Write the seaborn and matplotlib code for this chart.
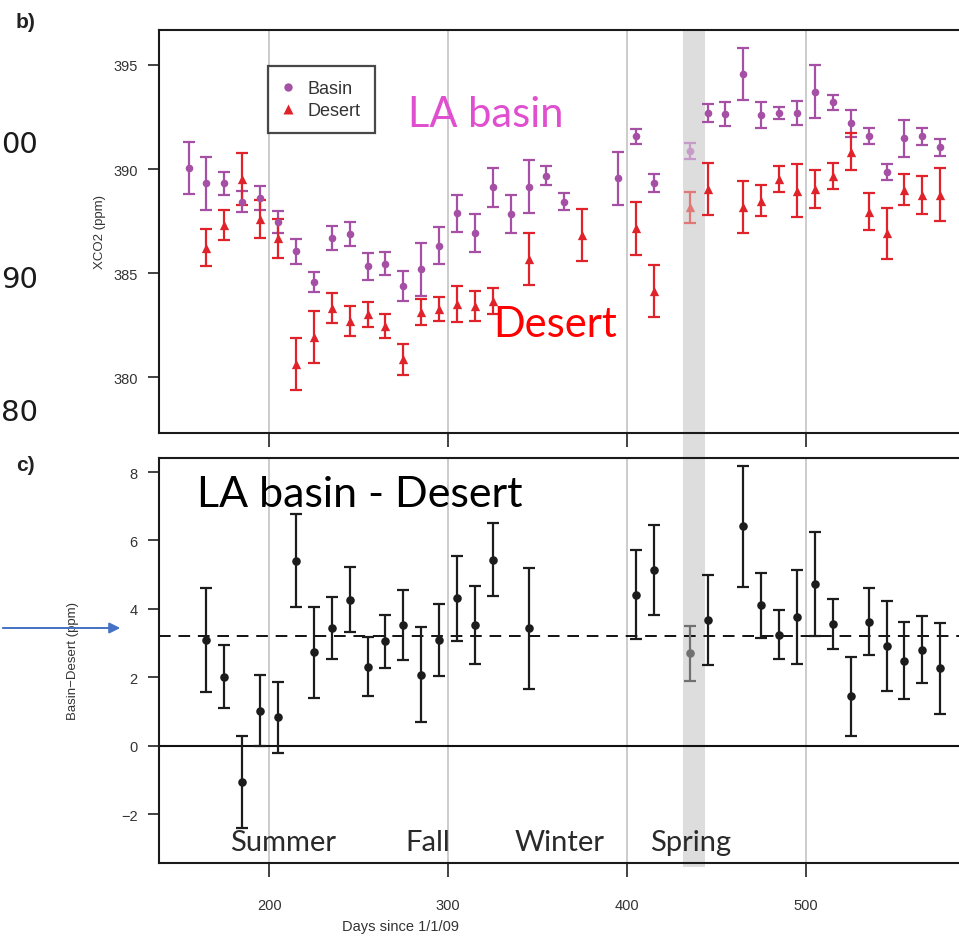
import matplotlib
matplotlib.use("Agg")
import matplotlib.pyplot as plt
from matplotlib.patches import Rectangle, FancyArrowPatch
from matplotlib.lines import Line2D
import numpy as np
import pandas as pd
import seaborn as sns

# ---------------- data ----------------
basin_days = [155, 165, 175, 185, 195, 205, 215, 225, 235, 245, 255, 265, 275, 285, 295,
              305, 315, 325, 335, 345, 355, 365, 395, 405, 415,
              435, 445, 455, 465, 475, 485, 495, 505, 515, 525, 535, 545, 555, 565, 575]
basin_vals = [390.03, 389.31, 389.31, 388.43, 388.6, 387.47, 386.04, 384.58, 386.67, 386.89,
              385.32, 385.46, 384.39, 385.19, 386.31, 387.87, 386.92, 389.12, 387.84, 389.15,
              389.68, 388.43, 389.55, 391.57, 389.33, 390.88, 392.68, 392.64, 394.57, 392.6,
              392.69, 392.68, 393.72, 393.2, 392.2, 391.6, 389.84, 391.47, 391.57, 391.04]
basin_err = [1.25, 1.28, 0.56, 0.5, 0.58, 0.52, 0.58, 0.48, 0.58, 0.58,
             0.64, 0.54, 0.72, 1.27, 0.89, 0.9, 0.9, 0.92, 0.9, 1.27,
             0.46, 0.42, 1.28, 0.36, 0.44, 0.38, 0.43, 0.56, 1.25, 0.62,
             0.3, 0.58, 1.26, 0.38, 0.64, 0.38, 0.38, 0.9, 0.4, 0.4]

desert_days = [165, 175, 185, 195, 205, 215, 225, 235, 245, 255, 265, 275, 285, 295, 305, 315, 325,
               345, 375, 405, 415, 435, 445, 465, 475, 485, 495, 505, 515, 525, 535, 545, 555, 565, 575]
desert_vals = [386.23, 387.31, 389.52, 387.6, 386.67, 380.63, 381.91, 383.32, 382.71, 383.03,
               382.47, 380.87, 383.14, 383.27, 383.51, 383.4, 383.67, 385.67, 386.83, 387.16,
               384.15, 388.16, 389.04, 388.16, 388.48, 389.52, 388.96, 389.04, 389.68, 390.83,
               387.95, 386.92, 389.01, 388.77, 388.77]
desert_err = [0.89, 0.72, 1.27, 0.9, 0.92, 1.26, 1.25, 0.72, 0.72, 0.6,
              0.58, 0.74, 0.64, 0.58, 0.88, 0.72, 0.63, 1.24, 1.26, 1.28,
              1.24, 0.74, 1.25, 1.25, 0.75, 0.62, 1.26, 0.9, 0.62, 0.88,
              0.9, 1.23, 0.74, 0.91, 1.26]

diff_days = [165, 175, 185, 195, 205, 215, 225, 235, 245, 255, 265, 275, 285, 295, 305, 315, 325,
             345, 405, 415, 435, 445, 465, 475, 485, 495, 505, 515, 525, 535, 545, 555, 565, 575]
diff_vals = [3.09, 2.02, -1.07, 1.02, 0.83, 5.41, 2.73, 3.44, 4.27, 2.31,
             3.05, 3.53, 2.08, 3.09, 4.31, 3.53, 5.44, 3.43, 4.41, 5.14,
             2.70, 3.68, 6.41, 4.10, 3.24, 3.76, 4.73, 3.56, 1.44, 3.63,
             2.91, 2.49, 2.81, 2.26]
diff_err = [1.52, 0.92, 1.34, 1.04, 1.04, 1.37, 1.33, 0.92, 0.94, 0.87,
            0.77, 1.02, 1.4, 1.05, 1.24, 1.15, 1.07, 1.76, 1.3, 1.32,
            0.8, 1.32, 1.76, 0.96, 0.72, 1.37, 1.52, 0.74, 1.15, 0.98,
            1.31, 1.14, 0.97, 1.32]

mean_diff = 3.22
band_days = (431.5, 443.5)
season_lines = [200, 300, 400, 500]
seasons = ["Summer", "Fall", "Winter", "Spring"]
x_ticks = [200, 300, 400, 500]
top_yticks = [380, 385, 390, 395]
bot_yticks = [-2, 0, 2, 4, 6, 8]
side_labels = ["00", "90", "80"]

# ---------------- style ----------------
sns.set_theme(style="white")
plt.rcParams["font.family"] = ["Liberation Sans", "DejaVu Sans"]

W, H = 959, 937
fig = plt.figure(figsize=(W / 100, H / 100), dpi=100)
fig.patch.set_facecolor("white")


def fx(px):
    return px / W


def fy(py):
    return 1 - py / H


ax1 = fig.add_axes([fx(159), fy(434), fx(959) - fx(159), fy(31) - fy(434)])
ax2 = fig.add_axes([fx(159), fy(864), fx(959) - fx(159), fy(459) - fy(864)])

# shaded band spanning both panels
fig.patches.append(Rectangle((fx(683), fy(868)), fx(705) - fx(683), fy(31) - fy(868),
                             transform=fig.transFigure, facecolor="#dddddd",
                             edgecolor="none", zorder=-1))

XL = (138.5, 585.5)

BASIN_C = "#a54fa5"
DESERT_C = "#e0222a"
BASIN_FADE = "#c79ac7"
DESERT_FADE = "#e07878"
DIFF_C = "#1c1c1c"
DIFF_FADE = "#707070"


def in_band(d):
    return band_days[0] <= d <= band_days[1]


for ax in (ax1, ax2):
    ax.set_facecolor("none")
    ax.set_xlim(*XL)
    for v in season_lines:
        ax.axvline(v, color="#c8c8c8", lw=1.3, zorder=1)
    for s in ("left", "top", "bottom"):
        ax.spines[s].set_visible(True)
        ax.spines[s].set_color("#1a1a1a")
        ax.spines[s].set_linewidth(1.5)
    ax.spines["right"].set_visible(False)
    ax.set_xticks(x_ticks)
    ax.tick_params(axis="y", direction="out", length=8, width=1.2, color="#222222",
                   labelsize=10.5, labelcolor="#333333", pad=7.5, left=True)
    ax.tick_params(axis="x", direction="out", length=10, width=1.2, color="#222222",
                   labelsize=10.5, labelcolor="#333333", pad=15, bottom=True)

# ---- top panel ----
df_b = pd.DataFrame({"day": basin_days, "xco2": basin_vals, "err": basin_err})
df_d = pd.DataFrame({"day": desert_days, "xco2": desert_vals, "err": desert_err})
df_b["band"] = df_b["day"].apply(in_band)
df_d["band"] = df_d["day"].apply(in_band)

for df, col, fade, mk, size in ((df_b, BASIN_C, BASIN_FADE, "o", 30),
                                 (df_d, DESERT_C, DESERT_FADE, "^", 45)):
    for flag, c in ((False, col), (True, fade)):
        sub = df[df["band"] == flag]
        ax1.errorbar(sub["day"], sub["xco2"], yerr=sub["err"], fmt="none",
                     ecolor=c, elinewidth=1.6, capsize=4.5, capthick=1.6, zorder=3)
        sns.scatterplot(data=sub, x="day", y="xco2", ax=ax1, color=c, marker=mk,
                        s=size, linewidth=0, zorder=4, legend=False)

ax1.set_ylim(377.32, 396.68)
ax1.set_yticks(top_yticks)
ax1.tick_params(axis="x", labelbottom=False)
ax1.set_xlabel("")
ax1.set_ylabel("XCO2 (ppm)", fontsize=9.5, color="#333333")
ax1.yaxis.set_label_coords((106 - 159) / 800, 0.5)

handles = [Line2D([0], [0], marker="o", color="none", markerfacecolor=BASIN_C,
                  markeredgecolor="none", markersize=6, label="Basin"),
           Line2D([0], [0], marker="^", color="none", markerfacecolor=DESERT_C,
                  markeredgecolor="none", markersize=7, label="Desert")]
leg = ax1.legend(handles=handles, loc="upper left",
                 bbox_to_anchor=((268 - 159) / 800, (434 - 67) / 403),
                 frameon=True, fancybox=False, fontsize=13, labelspacing=0.25,
                 borderpad=0.8, handletextpad=0.8, handlelength=0.6, borderaxespad=0)
leg.get_frame().set_edgecolor("#1a1a1a")
leg.get_frame().set_linewidth(1.6)
for t in leg.get_texts():
    t.set_color("#333333")

# ---- bottom panel ----
df_x = pd.DataFrame({"day": diff_days, "d": diff_vals, "err": diff_err})
df_x["band"] = df_x["day"].apply(in_band)
ax2.axhline(0, color="#111111", lw=1.5, zorder=2)
ax2.axhline(mean_diff, color="#111111", lw=1.4, ls=(0, (6, 4)), zorder=2)
for flag, c in ((False, DIFF_C), (True, DIFF_FADE)):
    sub = df_x[df_x["band"] == flag]
    ax2.errorbar(sub["day"], sub["d"], yerr=sub["err"], fmt="none", ecolor=c,
                 elinewidth=1.6, capsize=4.5, capthick=1.6, zorder=3)
    sns.scatterplot(data=sub, x="day", y="d", ax=ax2, color=c, marker="o",
                    s=38, linewidth=0, zorder=4, legend=False)

ax2.set_ylim(-3.43, 8.41)
ax2.set_yticks(bot_yticks)
ax2.set_yticklabels(["\u22122" if v < 0 else str(v) for v in bot_yticks])
ax2.set_ylabel("Basin\u2212Desert (ppm)", fontsize=9.5, color="#333333")
ax2.yaxis.set_label_coords((79 - 159) / 800, 0.5)
ax2.set_xlabel("Days since 1/1/09", fontsize=10.5, color="#333333")
ax2.xaxis.set_label_coords((400 - 159) / 800, -(920 - 864) / 405)

# ---------------- overlay annotations ----------------
fig.text(fx(16), fy(23), "b)", fontsize=15, fontweight="bold", color="#222222",
         va="center", ha="left")
fig.text(fx(16), fy(466), "c)", fontsize=15, fontweight="bold", color="#222222",
         va="center", ha="left")

for lab, yy in zip(side_labels, (145, 280, 413)):
    fig.text(fx(1), fy(yy), lab, fontsize=21, color="#1a1a1a", ha="left", va="center",
             family="DejaVu Sans")

big = dict(family=["Lato", "DejaVu Sans"], fontsize=30)
fig.text(fx(408), fy(127), "LA basin", color="#e04fcf", ha="left", va="baseline", **big)
fig.text(fx(493), fy(337), "Desert", color="#ff0000", ha="left", va="baseline", **big)
fig.text(fx(197), fy(507), "LA basin - Desert", color="#000000", ha="left", va="baseline",
         family=["Lato", "DejaVu Sans"], fontsize=31)

for lab, xl in zip(seasons, [230, 405, 515, 650]):
    fig.text(fx(xl), fy(851), lab, color="#2a2a2a", ha="left", va="baseline",
             family=["Lato", "DejaVu Sans"], fontsize=21)

arrow = FancyArrowPatch((0, fy(629) * H), (123, fy(629) * H), transform=None,
                        arrowstyle="-|>", mutation_scale=16, lw=1.4, color="#4472c4")
fig.patches.append(arrow)

fig.savefig("out.png", dpi=100, facecolor="white")
